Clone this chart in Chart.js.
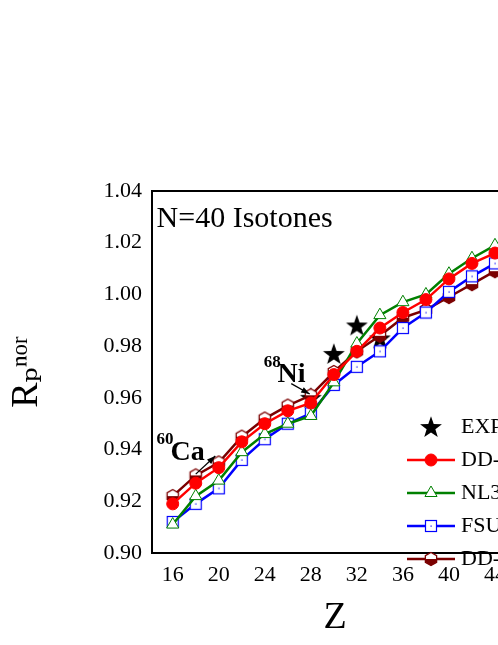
<!DOCTYPE html>
<html>
<head>
<meta charset="utf-8">
<script src="https://cdn.jsdelivr.net/npm/chart.js@4"></script>
<style>
  html, body { margin: 0; padding: 0; overflow: hidden; background: #fff; }
  #wrap { width: 620px; height: 645px; }
</style>
</head>
<body>
<div id="wrap"><canvas id="c" width="620" height="645"></canvas></div>
<script>
const Z = [16, 18, 20, 22, 24, 26, 28, 30, 32, 34, 36, 38, 40, 42, 44]
const ddme2 = [0.919, 0.927, 0.933, 0.943, 0.950, 0.955, 0.958, 0.969, 0.978, 0.987, 0.993, 0.998, 1.006, 1.012, 1.016]
const nl3 = [0.911, 0.922, 0.928, 0.939, 0.946, 0.950, 0.953, 0.966, 0.981, 0.992, 0.997, 1.000, 1.008, 1.014, 1.019]
const fsu = [0.912, 0.919, 0.925, 0.936, 0.944, 0.950, 0.954, 0.965, 0.972, 0.978, 0.987, 0.993, 1.001, 1.007, 1.012]
const ddpc1 = [0.922, 0.930, 0.935, 0.945, 0.952, 0.957, 0.961, 0.970, 0.978, 0.984, 0.991, 0.994, 0.999, 1.004, 1.009]
const expZ = [28, 30, 32, 34]
const expR = [0.960, 0.977, 0.988, 0.983]
const labels = ["EXP", "DD-ME2", "NL3*", "FSU-Gold", "DD-PC1"]

const pts = (xs, ys) => xs.map((x, i) => ({x: x, y: ys[i]}))
const serif = "'Liberation Serif', 'DejaVu Serif', serif"

function hexMarker(col) {
    const c = document.createElement("canvas")
    c.width = 16; c.height = 16
    const g = c.getContext("2d")
    const path = () => {
        g.beginPath()
        for (let k = 0; k < 6; k++) {
            const a = k * Math.PI / 3 - Math.PI / 2
            const px = 8 + 6.5 * Math.cos(a), py = 8 + 6.5 * Math.sin(a)
            k ? g.lineTo(px, py) : g.moveTo(px, py)
        }
        g.closePath()
    }
    path(); g.fillStyle = "#fff"; g.fill()
    g.save(); path(); g.clip(); g.fillStyle = col; g.fillRect(0, 8, 16, 8); g.restore()
    path(); g.lineWidth = 1.3; g.strokeStyle = col; g.stroke()
    return c
}
const hex = hexMarker("#7b0000")

function sqMarker() {
    const c = document.createElement("canvas")
    c.width = 14; c.height = 14
    const g = c.getContext("2d")
    g.fillStyle = "#fff"; g.fillRect(1, 1, 12, 12)
    g.strokeStyle = "#0000ff"; g.lineWidth = 1.2; g.strokeRect(1.5, 1.5, 11, 11)
    g.fillStyle = "#0000ff"; g.fillRect(6.5, 6.5, 1.2, 1.2)
    return c
}
const sq = sqMarker()

function starMarker() {
    const c = document.createElement("canvas")
    c.width = 24; c.height = 24
    const g = c.getContext("2d")
    g.beginPath()
    for (let k = 0; k < 10; k++) {
        const r = k % 2 ? 4.6 : 11.5
        const a = -Math.PI / 2 + k * Math.PI / 5
        const px = 12 + r * Math.cos(a), py = 12.8 + r * Math.sin(a)
        k ? g.lineTo(px, py) : g.moveTo(px, py)
    }
    g.closePath(); g.fillStyle = "#000"; g.fill()
    return c
}
const star = starMarker()

const datasets = [
    {label: labels[1], data: pts(Z, ddme2), borderColor: "#ff0000", backgroundColor: "#ff0000",
        pointStyle: "circle", pointRadius: 6, borderWidth: 2.5, pointBorderWidth: 1},
    {label: labels[2], data: pts(Z, nl3), borderColor: "#008000", backgroundColor: "#fff",
        pointStyle: "triangle", pointRadius: 7, borderWidth: 2.5, pointBorderWidth: 1},
    {label: labels[3], data: pts(Z, fsu), borderColor: "#0000ff", backgroundColor: "#fff",
        pointStyle: sq, borderWidth: 2.5},
    {label: labels[4], data: pts(Z, ddpc1), borderColor: "#7b0000", backgroundColor: "#7b0000",
        pointStyle: hex, borderWidth: 2.5},
    {label: labels[0], data: pts(expZ, expR), showLine: false, borderColor: "#000", backgroundColor: "#000",
        pointStyle: star}
]

const extras = {
    id: "extras",
    afterDraw(chart) {
        const g = chart.ctx, a = chart.chartArea
        const xs = chart.scales.x, ys = chart.scales.y
        g.save()
        g.strokeStyle = "#000"; g.lineWidth = 2
        g.strokeRect(a.left, a.top, a.right - a.left, a.bottom - a.top)
        g.fillStyle = "#000"; g.textBaseline = "alphabetic"; g.textAlign = "left"
        g.font = "30px " + serif
        g.fillText("N=40 Isotones", xs.getPixelForValue(14.6), ys.getPixelForValue(1.026))
        g.font = "bold 28px " + serif
        g.fillText("Ca", xs.getPixelForValue(15.8), ys.getPixelForValue(0.936))
        g.fillText("Ni", xs.getPixelForValue(25.1), ys.getPixelForValue(0.966))
        g.font = "bold 17px " + serif
        g.fillText("60", xs.getPixelForValue(14.6), ys.getPixelForValue(0.942))
        g.fillText("68", xs.getPixelForValue(23.9), ys.getPixelForValue(0.972))
        const arrow = (x1, y1, x2, y2) => {
            const p1 = [xs.getPixelForValue(x1), ys.getPixelForValue(y1)]
            const p2 = [xs.getPixelForValue(x2), ys.getPixelForValue(y2)]
            g.lineWidth = 1.3
            g.beginPath(); g.moveTo(p1[0], p1[1]); g.lineTo(p2[0], p2[1]); g.stroke()
            const ang = Math.atan2(p2[1] - p1[1], p2[0] - p1[0])
            g.beginPath()
            g.moveTo(p2[0], p2[1])
            g.lineTo(p2[0] - 9 * Math.cos(ang - 0.35), p2[1] - 9 * Math.sin(ang - 0.35))
            g.lineTo(p2[0] - 9 * Math.cos(ang + 0.35), p2[1] - 9 * Math.sin(ang + 0.35))
            g.closePath(); g.fill()
        }
        arrow(18.0, 0.9305, 19.7, 0.9375)
        arrow(26.3, 0.9655, 27.9, 0.9615)
        // legend
        const lx = 431, ly0 = 427, dy = 33
        g.font = "22px " + serif; g.textBaseline = "middle"
        const order = [4, 0, 1, 2, 3]
        order.forEach((di, k) => {
            const d = datasets[di], y = ly0 + k * dy
            if (d.showLine !== false) {
                g.strokeStyle = d.borderColor; g.lineWidth = 2.5
                g.beginPath(); g.moveTo(lx - 24, y); g.lineTo(lx + 24, y); g.stroke()
            }
            g.fillStyle = d.backgroundColor; g.strokeStyle = d.borderColor; g.lineWidth = 1
            Chart.helpers.drawPoint(g, {pointStyle: d.pointStyle, radius: d.pointRadius || 6, borderWidth: 1}, lx, y)
            g.fillStyle = "#000"
            g.fillText(d.label, lx + 30, y)
        })
        g.restore()
    }
}

new Chart(document.getElementById("c"), {
    type: "line",
    data: {datasets: datasets},
    options: {
        responsive: false,
        animation: false,
        layout: {padding: {top: 191, right: 102, left: 0, bottom: 0}},
        plugins: {legend: {display: false}, tooltip: {enabled: false}},
        scales: {
            x: {
                type: "linear", min: 14.2, max: 46,
                afterBuildTicks: s => { s.ticks = []; for (let v = 16; v <= 46; v += 2) s.ticks.push({value: v}) },
                afterFit: s => { s.height = 92 },
                grid: {display: false, drawTicks: true, tickLength: 7, tickColor: "#000", tickWidth: 1.5},
                border: {color: "#000", width: 2},
                ticks: {color: "#000", font: {family: serif, size: 22}, maxRotation: 0, autoSkip: false,
                    padding: 2, callback: v => v % 4 === 0 ? v : ""},
                title: {display: true, text: "Z", color: "#000", font: {family: serif, size: 38},
                    padding: {top: 0}}
            },
            y: {
                min: 0.90, max: 1.04,
                afterBuildTicks: s => { s.ticks = []; for (let v = 900; v <= 1040; v += 10) s.ticks.push({value: v / 1000}) },
                afterFit: s => { s.width = 152 },
                grid: {display: false, drawTicks: true, tickLength: 7, tickColor: "#000", tickWidth: 1.5},
                border: {color: "#000", width: 2},
                ticks: {color: "#000", font: {family: serif, size: 22}, autoSkip: false,
                    callback: v => Math.round(v * 1000) % 20 === 0 ? v.toFixed(2) : ""},
                title: {display: true, text: "R\u209A\u207F\u1D52\u02B3", color: "#000",
                    font: {family: serif, size: 38}, padding: {bottom: 4}}
            }
        }
    },
    plugins: [extras]
})
</script>
</body>
</html>
